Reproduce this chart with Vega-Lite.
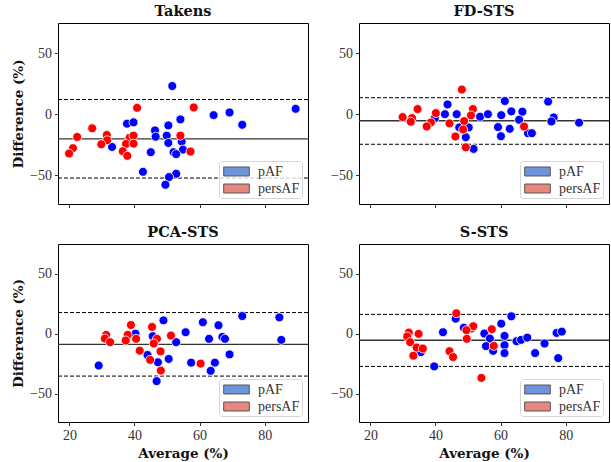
{
  "$schema": "https://vega.github.io/schema/vega-lite/v6.json",
  "padding": {"left": 11, "top": 3, "right": 1, "bottom": 2},
  "background": "white",
  "datasets": {
    "pts": [
      {"panel":"Takens","group":"pAF","average":51.6,"difference":23.3},
      {"panel":"Takens","group":"pAF","average":89.5,"difference":4.6},
      {"panel":"Takens","group":"pAF","average":64.3,"difference":-0.6},
      {"panel":"Takens","group":"pAF","average":69.2,"difference":1.6},
      {"panel":"Takens","group":"pAF","average":73.1,"difference":-8.5},
      {"panel":"Takens","group":"pAF","average":54.1,"difference":-4.1},
      {"panel":"Takens","group":"pAF","average":37.7,"difference":-7.6},
      {"panel":"Takens","group":"pAF","average":39.7,"difference":-6.5},
      {"panel":"Takens","group":"pAF","average":50.4,"difference":-9.0},
      {"panel":"Takens","group":"pAF","average":46.3,"difference":-13.1},
      {"panel":"Takens","group":"pAF","average":46.5,"difference":-18.3},
      {"panel":"Takens","group":"pAF","average":49.9,"difference":-17.4},
      {"panel":"Takens","group":"pAF","average":50.4,"difference":-23.4},
      {"panel":"Takens","group":"pAF","average":54.5,"difference":-22.3},
      {"panel":"Takens","group":"pAF","average":54.9,"difference":-28.9},
      {"panel":"Takens","group":"pAF","average":52.0,"difference":-31.0},
      {"panel":"Takens","group":"pAF","average":52.8,"difference":-32.6},
      {"panel":"Takens","group":"pAF","average":33.1,"difference":-26.7},
      {"panel":"Takens","group":"pAF","average":45.0,"difference":-31.0},
      {"panel":"Takens","group":"pAF","average":42.6,"difference":-47.1},
      {"panel":"Takens","group":"pAF","average":52.8,"difference":-48.7},
      {"panel":"Takens","group":"pAF","average":50.6,"difference":-51.4},
      {"panel":"Takens","group":"pAF","average":49.5,"difference":-57.7},
      {"panel":"Takens","group":"persAF","average":40.8,"difference":5.4},
      {"panel":"Takens","group":"persAF","average":58.2,"difference":5.7},
      {"panel":"Takens","group":"persAF","average":27.0,"difference":-11.4},
      {"panel":"Takens","group":"persAF","average":22.4,"difference":-18.5},
      {"panel":"Takens","group":"persAF","average":21.1,"difference":-27.7},
      {"panel":"Takens","group":"persAF","average":19.9,"difference":-32.1},
      {"panel":"Takens","group":"persAF","average":31.5,"difference":-16.9},
      {"panel":"Takens","group":"persAF","average":31.6,"difference":-21.2},
      {"panel":"Takens","group":"persAF","average":29.8,"difference":-24.5},
      {"panel":"Takens","group":"persAF","average":38.5,"difference":-19.1},
      {"panel":"Takens","group":"persAF","average":39.7,"difference":-17.4},
      {"panel":"Takens","group":"persAF","average":37.4,"difference":-24.2},
      {"panel":"Takens","group":"persAF","average":39.7,"difference":-24.0},
      {"panel":"Takens","group":"persAF","average":36.4,"difference":-30.2},
      {"panel":"Takens","group":"persAF","average":37.8,"difference":-34.0},
      {"panel":"Takens","group":"persAF","average":54.1,"difference":-17.4},
      {"panel":"Takens","group":"persAF","average":57.2,"difference":-30.5},

      {"panel":"FD-STS","group":"pAF","average":61.3,"difference":11.0},
      {"panel":"FD-STS","group":"pAF","average":74.6,"difference":10.5},
      {"panel":"FD-STS","group":"pAF","average":43.7,"difference":8.2},
      {"panel":"FD-STS","group":"pAF","average":42.9,"difference":0.2},
      {"panel":"FD-STS","group":"pAF","average":46.5,"difference":0.2},
      {"panel":"FD-STS","group":"pAF","average":53.7,"difference":-1.9},
      {"panel":"FD-STS","group":"pAF","average":56.1,"difference":0.2},
      {"panel":"FD-STS","group":"pAF","average":60.2,"difference":-0.6},
      {"panel":"FD-STS","group":"pAF","average":63.3,"difference":2.5},
      {"panel":"FD-STS","group":"pAF","average":66.7,"difference":2.2},
      {"panel":"FD-STS","group":"pAF","average":65.7,"difference":-4.4},
      {"panel":"FD-STS","group":"pAF","average":76.3,"difference":-2.5},
      {"panel":"FD-STS","group":"pAF","average":75.6,"difference":-5.8},
      {"panel":"FD-STS","group":"pAF","average":84.1,"difference":-6.8},
      {"panel":"FD-STS","group":"pAF","average":59.2,"difference":-10.4},
      {"panel":"FD-STS","group":"pAF","average":62.8,"difference":-11.8},
      {"panel":"FD-STS","group":"pAF","average":60.1,"difference":-17.9},
      {"panel":"FD-STS","group":"pAF","average":68.4,"difference":-15.4},
      {"panel":"FD-STS","group":"pAF","average":69.6,"difference":-15.4},
      {"panel":"FD-STS","group":"pAF","average":47.3,"difference":-10.7},
      {"panel":"FD-STS","group":"pAF","average":50.2,"difference":-10.7},
      {"panel":"FD-STS","group":"pAF","average":49.3,"difference":-18.7},
      {"panel":"FD-STS","group":"pAF","average":51.7,"difference":-28.3},
      {"panel":"FD-STS","group":"pAF","average":39.8,"difference":-3.0},
      {"panel":"FD-STS","group":"persAF","average":48.1,"difference":20.4},
      {"panel":"FD-STS","group":"persAF","average":34.5,"difference":4.4},
      {"panel":"FD-STS","group":"persAF","average":29.9,"difference":-2.2},
      {"panel":"FD-STS","group":"persAF","average":32.8,"difference":-3.0},
      {"panel":"FD-STS","group":"persAF","average":32.4,"difference":-6.0},
      {"panel":"FD-STS","group":"persAF","average":38.6,"difference":-6.6},
      {"panel":"FD-STS","group":"persAF","average":37.3,"difference":-9.9},
      {"panel":"FD-STS","group":"persAF","average":40.1,"difference":1.1},
      {"panel":"FD-STS","group":"persAF","average":44.3,"difference":-7.4},
      {"panel":"FD-STS","group":"persAF","average":51.5,"difference":4.4},
      {"panel":"FD-STS","group":"persAF","average":50.9,"difference":-0.8},
      {"panel":"FD-STS","group":"persAF","average":48.8,"difference":-5.5},
      {"panel":"FD-STS","group":"persAF","average":48.5,"difference":-12.4},
      {"panel":"FD-STS","group":"persAF","average":46.1,"difference":-18.1},
      {"panel":"FD-STS","group":"persAF","average":49.3,"difference":-27.0},
      {"panel":"FD-STS","group":"persAF","average":67.2,"difference":-9.9},

      {"panel":"PCA-STS","group":"pAF","average":73.1,"difference":14.9},
      {"panel":"PCA-STS","group":"pAF","average":84.5,"difference":13.8},
      {"panel":"PCA-STS","group":"pAF","average":48.9,"difference":11.3},
      {"panel":"PCA-STS","group":"pAF","average":61.0,"difference":9.7},
      {"panel":"PCA-STS","group":"pAF","average":65.8,"difference":7.2},
      {"panel":"PCA-STS","group":"pAF","average":55.7,"difference":1.4},
      {"panel":"PCA-STS","group":"pAF","average":62.9,"difference":-4.1},
      {"panel":"PCA-STS","group":"pAF","average":67.0,"difference":-2.5},
      {"panel":"PCA-STS","group":"pAF","average":67.8,"difference":-4.1},
      {"panel":"PCA-STS","group":"pAF","average":85.1,"difference":-5.0},
      {"panel":"PCA-STS","group":"pAF","average":52.8,"difference":-6.9},
      {"panel":"PCA-STS","group":"pAF","average":40.3,"difference":0.2},
      {"panel":"PCA-STS","group":"pAF","average":45.6,"difference":-1.9},
      {"panel":"PCA-STS","group":"pAF","average":69.2,"difference":-17.1},
      {"panel":"PCA-STS","group":"pAF","average":44.0,"difference":-17.6},
      {"panel":"PCA-STS","group":"pAF","average":50.5,"difference":-20.9},
      {"panel":"PCA-STS","group":"pAF","average":47.2,"difference":-23.7},
      {"panel":"PCA-STS","group":"pAF","average":57.4,"difference":-24.0},
      {"panel":"PCA-STS","group":"pAF","average":64.7,"difference":-24.0},
      {"panel":"PCA-STS","group":"pAF","average":29.0,"difference":-26.4},
      {"panel":"PCA-STS","group":"pAF","average":63.4,"difference":-30.8},
      {"panel":"PCA-STS","group":"pAF","average":46.8,"difference":-39.4},
      {"panel":"PCA-STS","group":"persAF","average":38.9,"difference":7.4},
      {"panel":"PCA-STS","group":"persAF","average":45.4,"difference":5.8},
      {"panel":"PCA-STS","group":"persAF","average":31.3,"difference":-0.8},
      {"panel":"PCA-STS","group":"persAF","average":30.9,"difference":-3.9},
      {"panel":"PCA-STS","group":"persAF","average":32.5,"difference":-6.9},
      {"panel":"PCA-STS","group":"persAF","average":37.9,"difference":-0.8},
      {"panel":"PCA-STS","group":"persAF","average":37.3,"difference":-5.5},
      {"panel":"PCA-STS","group":"persAF","average":40.5,"difference":-4.1},
      {"panel":"PCA-STS","group":"persAF","average":46.9,"difference":-4.1},
      {"panel":"PCA-STS","group":"persAF","average":45.9,"difference":-8.0},
      {"panel":"PCA-STS","group":"persAF","average":51.2,"difference":-1.4},
      {"panel":"PCA-STS","group":"persAF","average":41.6,"difference":-14.0},
      {"panel":"PCA-STS","group":"persAF","average":48.0,"difference":-14.6},
      {"panel":"PCA-STS","group":"persAF","average":44.8,"difference":-21.7},
      {"panel":"PCA-STS","group":"persAF","average":48.1,"difference":-30.6},
      {"panel":"PCA-STS","group":"persAF","average":60.3,"difference":-24.8},

      {"panel":"S-STS","group":"pAF","average":46.2,"difference":12.7},
      {"panel":"S-STS","group":"pAF","average":42.3,"difference":1.4},
      {"panel":"S-STS","group":"pAF","average":48.7,"difference":5.2},
      {"panel":"S-STS","group":"pAF","average":63.3,"difference":14.7},
      {"panel":"S-STS","group":"pAF","average":60.2,"difference":8.5},
      {"panel":"S-STS","group":"pAF","average":55.0,"difference":0.3},
      {"panel":"S-STS","group":"pAF","average":56.7,"difference":-3.9},
      {"panel":"S-STS","group":"pAF","average":61.2,"difference":-1.7},
      {"panel":"S-STS","group":"pAF","average":55.5,"difference":-10.2},
      {"panel":"S-STS","group":"pAF","average":57.7,"difference":-14.1},
      {"panel":"S-STS","group":"pAF","average":61.2,"difference":-9.4},
      {"panel":"S-STS","group":"pAF","average":61.2,"difference":-16.0},
      {"panel":"S-STS","group":"pAF","average":64.9,"difference":-6.1},
      {"panel":"S-STS","group":"pAF","average":66.3,"difference":-5.0},
      {"panel":"S-STS","group":"pAF","average":68.2,"difference":-3.1},
      {"panel":"S-STS","group":"pAF","average":73.5,"difference":-8.0},
      {"panel":"S-STS","group":"pAF","average":70.6,"difference":-16.0},
      {"panel":"S-STS","group":"pAF","average":77.2,"difference":0.8},
      {"panel":"S-STS","group":"pAF","average":78.8,"difference":1.9},
      {"panel":"S-STS","group":"pAF","average":77.7,"difference":-20.2},
      {"panel":"S-STS","group":"pAF","average":39.6,"difference":-27.1},
      {"panel":"S-STS","group":"pAF","average":35.5,"difference":-15.2},
      {"panel":"S-STS","group":"persAF","average":46.4,"difference":17.2},
      {"panel":"S-STS","group":"persAF","average":31.8,"difference":1.1},
      {"panel":"S-STS","group":"persAF","average":34.8,"difference":0.0},
      {"panel":"S-STS","group":"persAF","average":31.3,"difference":-2.2},
      {"panel":"S-STS","group":"persAF","average":32.2,"difference":-6.9},
      {"panel":"S-STS","group":"persAF","average":34.2,"difference":-11.4},
      {"panel":"S-STS","group":"persAF","average":36.1,"difference":-12.2},
      {"panel":"S-STS","group":"persAF","average":33.2,"difference":-18.2},
      {"panel":"S-STS","group":"persAF","average":44.3,"difference":-14.4},
      {"panel":"S-STS","group":"persAF","average":45.4,"difference":-19.3},
      {"panel":"S-STS","group":"persAF","average":51.0,"difference":4.4},
      {"panel":"S-STS","group":"persAF","average":51.6,"difference":6.4},
      {"panel":"S-STS","group":"persAF","average":49.5,"difference":3.1},
      {"panel":"S-STS","group":"persAF","average":49.6,"difference":-4.1},
      {"panel":"S-STS","group":"persAF","average":57.3,"difference":3.9},
      {"panel":"S-STS","group":"persAF","average":57.9,"difference":-10.0},
      {"panel":"S-STS","group":"persAF","average":54.1,"difference":-36.7}
    ],
    "lines": [
      {"panel":"Takens","kind":"mean","value":-20.0},
      {"panel":"Takens","kind":"loa","value":12.2},
      {"panel":"Takens","kind":"loa","value":-52.2},
      {"panel":"FD-STS","kind":"mean","value":-5.2},
      {"panel":"FD-STS","kind":"loa","value":13.7},
      {"panel":"FD-STS","kind":"loa","value":-24.5},
      {"panel":"PCA-STS","kind":"mean","value":-8.8},
      {"panel":"PCA-STS","kind":"loa","value":17.8},
      {"panel":"PCA-STS","kind":"loa","value":-35.2},
      {"panel":"S-STS","kind":"mean","value":-5.3},
      {"panel":"S-STS","kind":"loa","value":16.3},
      {"panel":"S-STS","kind":"loa","value":-27.1}
    ],
    "legend": [
      {"series":"pAF"},
      {"series":"persAF"}
    ]
  },
  "config": {
    "font": "Liberation Serif",
    "view": {"stroke": "#000", "strokeWidth": 1},
    "axis": {"domain": false, "grid": false, "tickColor": "#333", "tickSize": 3.5, "labelFont": "Liberation Serif", "labelFontSize": 14, "labelColor": "#333", "labelPadding": 3, "titleFont": "DejaVu Serif", "titleFontSize": 13.5, "titleFontWeight": "bold", "titleColor": "#111", "titlePadding": 4},
    "title": {"font": "DejaVu Serif", "fontSize": 14.5, "fontWeight": "bold", "color": "#111", "offset": 4},
    "legend": {"orient": "bottom-right", "offset": 6, "fillColor": "rgba(255,255,255,0.8)", "strokeColor": "#d6d6d6", "cornerRadius": 3, "padding": 2, "labelFont": "Liberation Serif", "labelFontSize": 14, "labelColor": "#333", "labelOffset": 13, "symbolOffset": 7, "symbolType": "M-1.6,-0.56H1.6V0.56H-1.6Z", "symbolSize": 256, "rowPadding": 1, "symbolOpacity": 1, "symbolStrokeColor": "#555", "symbolStrokeWidth": 1}
  },
  "resolve": {"scale": {"color": "independent", "fill": "independent"}, "legend": {"color": "independent"}},
  "spacing": 15,
  "vconcat": [
    {
      "spacing": 20,
      "resolve": {"scale": {"color": "independent", "fill": "independent"}, "legend": {"color": "independent"}},
      "hconcat": [
        {
          "width": 250, "height": 181, "title": "Takens",
          "layer": [
            {"data": {"name": "lines"}, "transform": [{"filter": "datum.panel === 'Takens' && datum.kind === 'loa'"}],
             "mark": {"type": "rule", "color": "#000", "strokeWidth": 1, "strokeDash": [4, 2]},
             "encoding": {"y": {"field": "value", "type": "quantitative", "scale": {"domain": [-73.5, 75], "nice": false, "zero": false}, "axis": {"values": [-50, 0, 50], "title": "Difference (%)"}}}},
            {"data": {"name": "lines"}, "transform": [{"filter": "datum.panel === 'Takens' && datum.kind === 'mean'"}],
             "mark": {"type": "rule", "color": "#333", "strokeWidth": 1.3},
             "encoding": {"y": {"field": "value", "type": "quantitative"}}},
            {"data": {"name": "pts"}, "transform": [{"filter": "datum.panel === 'Takens'"}],
             "mark": {"type": "circle", "size": 80, "opacity": 1, "stroke": "white", "strokeWidth": 0.8},
             "encoding": {
               "x": {"field": "average", "type": "quantitative", "scale": {"domain": [16.5, 93.3], "nice": false, "zero": false}, "axis": {"values": [20, 40, 60, 80], "labels": false, "title": null}},
               "y": {"field": "difference", "type": "quantitative"},
               "fill": {"field": "group", "type": "nominal", "scale": {"range": ["#0000ff", "#ff0000"]}, "legend": null}
             }},
            {"data": {"name": "legend"},
             "mark": {"type": "square", "size": 1, "opacity": 0},
             "encoding": {
               "color": {"field": "series", "type": "nominal", "scale": {"domain": ["pAF", "persAF"], "range": ["#6e94dc", "#e8877e"]}, "legend": {"title": null}}
             }}
          ]
        },
        {
          "width": 250, "height": 181, "title": "FD-STS",
          "layer": [
            {"data": {"name": "lines"}, "transform": [{"filter": "datum.panel === 'FD-STS' && datum.kind === 'loa'"}],
             "mark": {"type": "rule", "color": "#000", "strokeWidth": 1, "strokeDash": [4, 2]},
             "encoding": {"y": {"field": "value", "type": "quantitative", "scale": {"domain": [-73.5, 75], "nice": false, "zero": false}, "axis": {"values": [-50, 0, 50], "title": null}}}},
            {"data": {"name": "lines"}, "transform": [{"filter": "datum.panel === 'FD-STS' && datum.kind === 'mean'"}],
             "mark": {"type": "rule", "color": "#333", "strokeWidth": 1.3},
             "encoding": {"y": {"field": "value", "type": "quantitative"}}},
            {"data": {"name": "pts"}, "transform": [{"filter": "datum.panel === 'FD-STS'"}],
             "mark": {"type": "circle", "size": 80, "opacity": 1, "stroke": "white", "strokeWidth": 0.8},
             "encoding": {
               "x": {"field": "average", "type": "quantitative", "scale": {"domain": [16.5, 93.3], "nice": false, "zero": false}, "axis": {"values": [20, 40, 60, 80], "labels": false, "title": null}},
               "y": {"field": "difference", "type": "quantitative"},
               "fill": {"field": "group", "type": "nominal", "scale": {"range": ["#0000ff", "#ff0000"]}, "legend": null}
             }},
            {"data": {"name": "legend"},
             "mark": {"type": "square", "size": 1, "opacity": 0},
             "encoding": {
               "color": {"field": "series", "type": "nominal", "scale": {"domain": ["pAF", "persAF"], "range": ["#6e94dc", "#e8877e"]}, "legend": {"title": null}}
             }}
          ]
        }
      ]
    },
    {
      "spacing": 20,
      "resolve": {"scale": {"color": "independent", "fill": "independent"}, "legend": {"color": "independent"}},
      "hconcat": [
        {
          "width": 250, "height": 178, "title": "PCA-STS",
          "layer": [
            {"data": {"name": "lines"}, "transform": [{"filter": "datum.panel === 'PCA-STS' && datum.kind === 'loa'"}],
             "mark": {"type": "rule", "color": "#000", "strokeWidth": 1, "strokeDash": [4, 2]},
             "encoding": {"y": {"field": "value", "type": "quantitative", "scale": {"domain": [-73.5, 75], "nice": false, "zero": false}, "axis": {"values": [-50, 0, 50], "title": "Difference (%)"}}}},
            {"data": {"name": "lines"}, "transform": [{"filter": "datum.panel === 'PCA-STS' && datum.kind === 'mean'"}],
             "mark": {"type": "rule", "color": "#333", "strokeWidth": 1.3},
             "encoding": {"y": {"field": "value", "type": "quantitative"}}},
            {"data": {"name": "pts"}, "transform": [{"filter": "datum.panel === 'PCA-STS'"}],
             "mark": {"type": "circle", "size": 80, "opacity": 1, "stroke": "white", "strokeWidth": 0.8},
             "encoding": {
               "x": {"field": "average", "type": "quantitative", "scale": {"domain": [16.5, 93.3], "nice": false, "zero": false}, "axis": {"values": [20, 40, 60, 80], "title": "Average (%)"}},
               "y": {"field": "difference", "type": "quantitative"},
               "fill": {"field": "group", "type": "nominal", "scale": {"range": ["#0000ff", "#ff0000"]}, "legend": null}
             }},
            {"data": {"name": "legend"},
             "mark": {"type": "square", "size": 1, "opacity": 0},
             "encoding": {
               "color": {"field": "series", "type": "nominal", "scale": {"domain": ["pAF", "persAF"], "range": ["#6e94dc", "#e8877e"]}, "legend": {"title": null}}
             }}
          ]
        },
        {
          "width": 250, "height": 178, "title": "S-STS",
          "layer": [
            {"data": {"name": "lines"}, "transform": [{"filter": "datum.panel === 'S-STS' && datum.kind === 'loa'"}],
             "mark": {"type": "rule", "color": "#000", "strokeWidth": 1, "strokeDash": [4, 2]},
             "encoding": {"y": {"field": "value", "type": "quantitative", "scale": {"domain": [-73.5, 75], "nice": false, "zero": false}, "axis": {"values": [-50, 0, 50], "title": null}}}},
            {"data": {"name": "lines"}, "transform": [{"filter": "datum.panel === 'S-STS' && datum.kind === 'mean'"}],
             "mark": {"type": "rule", "color": "#333", "strokeWidth": 1.3},
             "encoding": {"y": {"field": "value", "type": "quantitative"}}},
            {"data": {"name": "pts"}, "transform": [{"filter": "datum.panel === 'S-STS'"}],
             "mark": {"type": "circle", "size": 80, "opacity": 1, "stroke": "white", "strokeWidth": 0.8},
             "encoding": {
               "x": {"field": "average", "type": "quantitative", "scale": {"domain": [16.5, 93.3], "nice": false, "zero": false}, "axis": {"values": [20, 40, 60, 80], "title": "Average (%)"}},
               "y": {"field": "difference", "type": "quantitative"},
               "fill": {"field": "group", "type": "nominal", "scale": {"range": ["#0000ff", "#ff0000"]}, "legend": null}
             }},
            {"data": {"name": "legend"},
             "mark": {"type": "square", "size": 1, "opacity": 0},
             "encoding": {
               "color": {"field": "series", "type": "nominal", "scale": {"domain": ["pAF", "persAF"], "range": ["#6e94dc", "#e8877e"]}, "legend": {"title": null}}
             }}
          ]
        }
      ]
    }
  ]
}
